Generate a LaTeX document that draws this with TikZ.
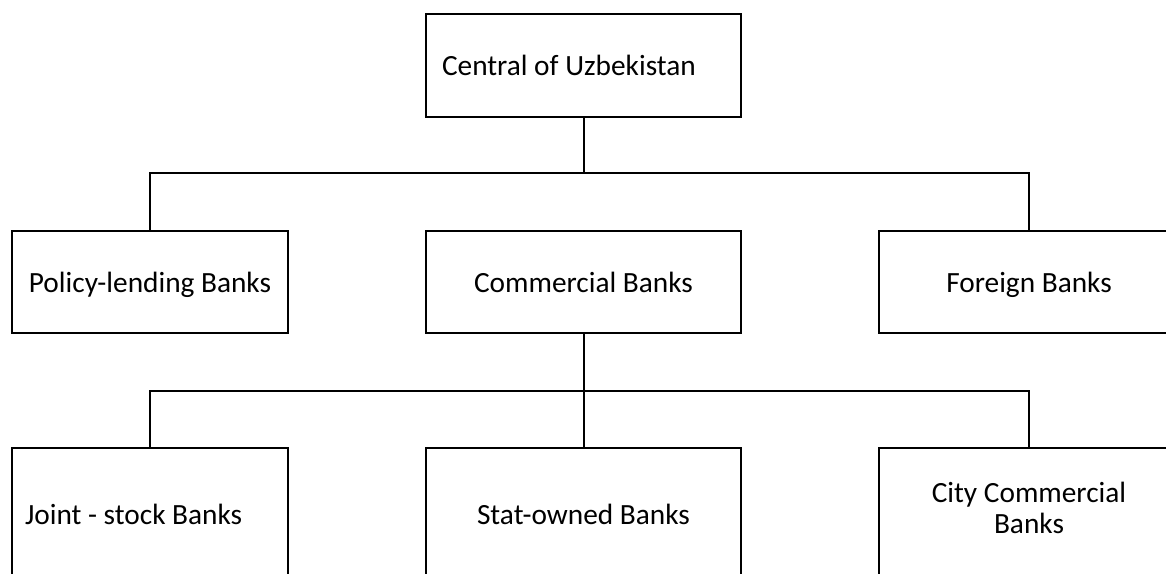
\documentclass[tikz,border=0pt]{standalone}
\usepackage{fontspec}
\setmainfont{Carlito}
\newcommand{\nsp}{\spaceskip=0pt\xspaceskip=0pt\relax}
\tikzset{
  box/.style={draw, line width=1.5pt, rectangle, inner sep=0pt,
    font=\fontsize{22}{23.25}\selectfont, align=center,
    text height=17pt, text depth=2pt},
  lbox/.style={box, align=flush left},
  conn/.style={line width=1.5pt},
}
\begin{document}
\begin{tikzpicture}[x=0.75pt,y=-0.75pt]
\useasboundingbox (0,0) rectangle (1166,574);
\clip (0,0) rectangle (1166,574);
% top
\node[lbox, text width=212.25pt, inner xsep=12pt, minimum height=77.25pt] (C) at (583.5,65.5) {\nsp Central of Uzbekistan};
% middle row
\node[box, minimum width=207pt, minimum height=76.5pt] (P) at (150,282) {Policy-lending Banks};
\node[box, minimum width=236.25pt, minimum height=76.5pt] (M) at (583.5,282) {Commercial Banks};
\node[box, minimum width=225pt, minimum height=76.5pt] (F) at (1029,282) {Foreign Banks};
% bottom row
\node[lbox, text width=187.5pt, inner xsep=9.75pt, minimum height=99pt] (J) at (150,514) {\nsp Joint - stock Banks};
\node[box, minimum width=236.25pt, minimum height=99pt] (S) at (583.5,514) {Stat-owned Banks};
\node[box, minimum width=225pt, minimum height=99pt, text height=30pt, text depth=1.5pt] (Y) at (1029,514) {City Commercial\\Banks};
% connectors
\coordinate (bus1) at (583.5,173);
\coordinate (bus2) at (583.5,391);
\draw[conn] (C.south) -- (bus1);
\draw[conn] (P.north) |- (bus1) -| (F.north);
\draw[conn] (M.south) -- (S.north);
\draw[conn] (J.north) |- (bus2) -| (Y.north);
\end{tikzpicture}
\end{document}
